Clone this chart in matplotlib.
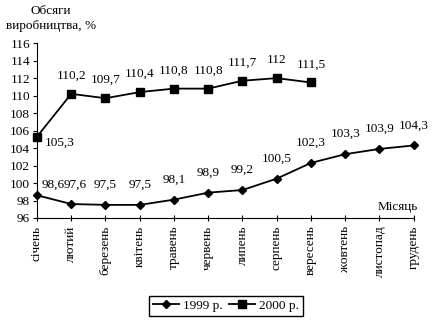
import matplotlib.pyplot as plt
from matplotlib.lines import Line2D

plt.rcParams['font.family'] = ['Liberation Serif', 'DejaVu Serif']
plt.rcParams['font.size'] = 9.5

months = ['січень', 'лютий', 'березень', 'квітень', 'травень', 'червень',
          'липень', 'серпень', 'вересень', 'жовтень', 'листопад', 'грудень']
values_1999 = [98.6, 97.6, 97.5, 97.5, 98.1, 98.9, 99.2, 100.5, 102.3, 103.3, 103.9, 104.3]
values_2000 = [105.3, 110.2, 109.7, 110.4, 110.8, 110.8, 111.7, 112, 111.5]
yticks = list(range(96, 117, 2))


def fmt(v):
    return ('%g' % v).replace('.', ',')


fig = plt.figure(figsize=(4.32, 3.22), dpi=100)
ax = fig.add_axes([0.0856, 0.323, 0.872, 0.543])

x1 = list(range(1, len(values_1999) + 1))
x2 = list(range(1, len(values_2000) + 1))
ax.plot(x1, values_1999, color='black', lw=1.3, marker='D', ms=4.5, clip_on=False)
ax.plot(x2, values_2000, color='black', lw=1.3, marker='s', ms=5.5, clip_on=False)

# value labels above the points, with a few nudged sideways
for i, (x, v) in enumerate(zip(x1, values_1999)):
    if i == 0:
        dx, dy = 11.5, 7.5
    elif i == 1:
        dx, dy = 3, 14
    else:
        dx, dy = 0, 14.5
    ax.annotate(fmt(v), (x, v), xytext=(dx, dy), textcoords='offset points',
                ha='center', va='center')
for i, (x, v) in enumerate(zip(x2, values_2000)):
    if i == 0:
        dx, dy = 16, -4
    else:
        dx, dy = 0, 13
    ax.annotate(fmt(v), (x, v), xytext=(dx, dy), textcoords='offset points',
                ha='center', va='center')

ax.set_xlim(1, 12)
ax.set_ylim(96, 116)
ax.set_yticks(yticks)
ax.set_xticks(x1)
ax.set_xticklabels(months, rotation=90, va='top')
ax.spines['top'].set_visible(False)
ax.spines['right'].set_visible(False)
ax.tick_params(axis='y', direction='out', length=3, pad=2)
ax.tick_params(axis='x', direction='inout', length=5, pad=3)

fig.text(0.118, 0.985, 'Обсяги\nвиробництва, %', ha='center', va='top',
         linespacing=1.3)
ax.text(1.01, 0.03, 'Місяць', transform=ax.transAxes, ha='right', va='bottom')

handles = [Line2D([], [], color='black', lw=1.3, marker='D', ms=4.5),
           Line2D([], [], color='black', lw=1.3, marker='s', ms=5.5)]
fig.legend(handles, ['1999 р.', '2000 р.'], loc='center', ncol=2,
           bbox_to_anchor=(0.523, 0.05), frameon=True, fancybox=False,
           edgecolor='black', framealpha=1, handlelength=2.0,
           borderpad=0.3, columnspacing=0.5, handletextpad=0.3)

fig.savefig('out.png', dpi=100)
